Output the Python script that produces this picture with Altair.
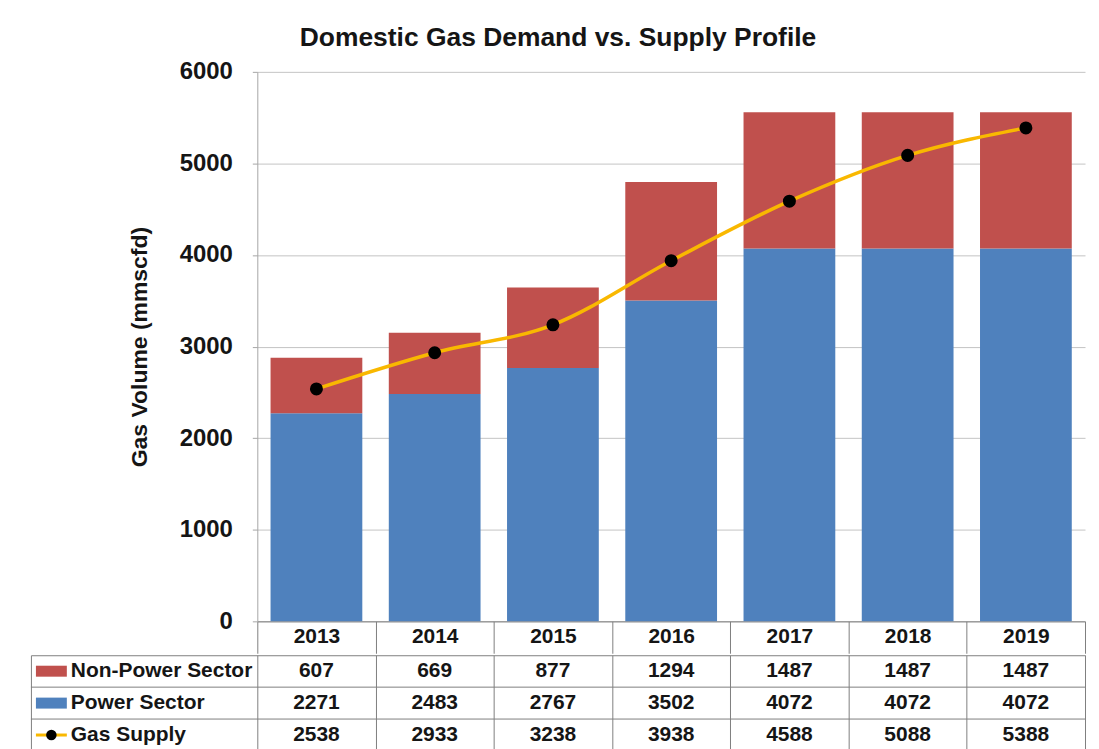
import altair as alt
import pandas as pd

# ---- data ----
years = ["2013", "2014", "2015", "2016", "2017", "2018", "2019"]
non_power = [607, 669, 877, 1294, 1487, 1487, 1487]
power = [2271, 2483, 2767, 3502, 4072, 4072, 4072]
gas_supply = [2538, 2933, 3238, 3938, 4588, 5088, 5388]
row_names = ["Non-Power Sector", "Power Sector", "Gas Supply"]
series_colors = ["#c0504d", "#4f81bd", "#f9b800"]
y_ticks = [0, 1000, 2000, 3000, 4000, 5000, 6000]

bars = pd.DataFrame({
    "year": years * 2,
    "series": ["Power Sector"] * len(years) + ["Non-Power Sector"] * len(years),
    "value": power + non_power,
    "order": [0] * len(years) + [1] * len(years),
})
supply = pd.DataFrame({"year": years, "value": gas_supply})
table = pd.DataFrame({
    "year": years * 3,
    "row": [r for r in row_names for _ in years],
    "text": [str(v) for v in non_power + power + gas_supply],
})
labels = pd.DataFrame({"row": row_names, "col": ["label"] * len(row_names)})
inner_rows = pd.DataFrame({"row": row_names[1:]})

FONT = "Liberation Sans"
TXT = "#151515"
GRID = "#c4c4c4"
LINE = "#808080"
LABEL_W = 227
PLOT_W = 830
HALF_LABEL = LABEL_W / 2

color_scale = alt.Scale(domain=row_names, range=series_colors)
x_scale = alt.Scale(domain=years, range=[LABEL_W, LABEL_W + PLOT_W], paddingInner=0, paddingOuter=0)
y_scale = alt.Scale(domain=[0, 6000])

y_axis = alt.Axis(
    values=y_ticks, format="d", title="Gas Volume (mmscfd)", offset=-LABEL_W,
    tickSize=5, tickColor="#a6a6a6", domainColor="#a6a6a6",
    labelPadding=20, labelFont=FONT, labelFontSize=24, labelFontWeight="bold", labelColor=TXT,
    titleFont=FONT, titleFontSize=23, titleFontWeight="bold", titleColor=TXT, titlePadding=28,
    grid=True, gridColor=GRID,
)
x_axis_top = alt.Axis(
    title=None, labelAngle=0, labelFont=FONT, labelFontSize=21, labelFontWeight="bold",
    labelColor=TXT, labelPadding=-28, tickBand="extent", tickSize=32, tickColor=LINE,
    domainColor=LINE, grid=False,
)

bar = alt.Chart(bars).mark_bar(width=alt.RelativeBandSize(0.776)).encode(
    x=alt.X("year:N", scale=x_scale, axis=x_axis_top),
    y=alt.Y("value:Q", stack="zero", scale=y_scale, axis=y_axis),
    color=alt.Color("series:N", scale=color_scale, legend=None),
    order=alt.Order("order:Q"),
)
line = alt.Chart(supply).mark_line(color=series_colors[2], strokeWidth=3.5, interpolate="monotone").encode(
    x=alt.X("year:N", scale=x_scale, axis=x_axis_top),
    y=alt.Y("value:Q", scale=y_scale, axis=y_axis),
)
pts = alt.Chart(supply).mark_circle(size=170, color="black", opacity=1).encode(
    x=alt.X("year:N", scale=x_scale, axis=x_axis_top),
    y=alt.Y("value:Q", scale=y_scale, axis=y_axis),
)
top = alt.layer(bar, line, pts).properties(
    width=LABEL_W + PLOT_W, height=551, view=alt.ViewBackground(stroke=None)
)

# ---- data table ----
y_tab = alt.Y("row:N", scale=alt.Scale(domain=row_names, paddingInner=0, paddingOuter=0), axis=None)
x_axis_tab = alt.Axis(title=None, labels=False, ticks=False, domain=False, grid=True,
                      tickBand="extent", gridColor=LINE)
col_x = alt.X("col:N", scale=alt.Scale(range=[0, LABEL_W], paddingInner=0, paddingOuter=0),
              axis=None)

rules = alt.Chart(inner_rows).mark_rule(color=LINE).encode(
    y=alt.Y("row:N", scale=alt.Scale(domain=row_names, paddingInner=0, paddingOuter=0),
            axis=None, bandPosition=0)
)
texts = alt.Chart(table).mark_text(font=FONT, fontSize=21, fontWeight="bold", color=TXT).encode(
    x=alt.X("year:N", scale=x_scale, axis=x_axis_tab), y=y_tab, text="text:N"
)
row_text = alt.Chart(labels).mark_text(
    align="left", dx=40 - HALF_LABEL, font=FONT, fontSize=21, fontWeight="bold", color=TXT
).encode(x=col_x, y=y_tab, text="row:N")
sw_rect = alt.Chart(labels).transform_filter(
    alt.FieldOneOfPredicate(field="row", oneOf=row_names[:2])
).mark_tick(orient="horizontal", size=31, thickness=11, xOffset=20.5 - HALF_LABEL, opacity=1).encode(
    x=col_x, y=y_tab, color=alt.Color("row:N", scale=color_scale, legend=None)
)
sw_line = alt.Chart(labels).transform_filter(
    alt.FieldEqualPredicate(field="row", equal=row_names[2])
).mark_tick(orient="horizontal", size=31, thickness=3, xOffset=20.5 - HALF_LABEL, opacity=1,
            color=series_colors[2]).encode(x=col_x, y=y_tab)
sw_dot = alt.Chart(labels).transform_filter(
    alt.FieldEqualPredicate(field="row", equal=row_names[2])
).mark_circle(size=110, color="black", opacity=1, xOffset=20.5 - HALF_LABEL).encode(x=col_x, y=y_tab)

bottom = alt.layer(rules, texts, row_text, sw_rect, sw_line, sw_dot).resolve_scale(
    x="independent"
).properties(width=LABEL_W + PLOT_W, height=96, view=alt.ViewBackground(stroke=LINE))

chart = alt.vconcat(top, bottom, spacing=0).properties(
    title=alt.TitleParams(
        "Domestic Gas Demand vs. Supply Profile", font=FONT, fontSize=26.5,
        fontWeight="bold", color=TXT, anchor="middle", offset=8,
    ),
    padding={"left": 22, "top": 16, "right": 5, "bottom": 0},
    background="white",
)

chart.save("out.html", embed_options={"renderer": "svg", "actions": False})
